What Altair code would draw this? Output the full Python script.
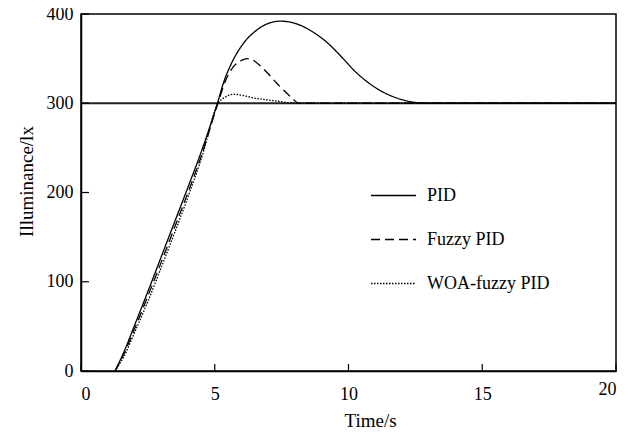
import altair as alt
import pandas as pd

series_names = ["PID", "Fuzzy PID", "WOA-fuzzy PID"]

pid_t = [1.27, 1.6, 2.0, 2.5, 3.0, 3.5, 4.0, 4.5, 5.1, 5.35, 5.63, 6.07, 6.57, 7.05, 7.45, 7.95, 8.55, 9.2, 9.8, 10.2, 10.7, 11.2, 11.7, 12.2, 12.6, 13.0, 20.0]
pid_v = [0, 21, 51, 89, 128, 167, 206, 246, 300, 325, 345, 367, 382, 390, 392, 390, 382, 368, 350, 337, 324, 314, 307, 302.5, 300.6, 300, 300]

fuzzy_t = [1.27, 1.6, 2.0, 2.5, 3.0, 3.5, 4.0, 4.5, 5.12, 5.4, 5.7, 6.0, 6.2, 6.45, 6.7, 7.0, 7.3, 7.6, 7.9, 8.15, 20.0]
fuzzy_v = [0, 19, 47, 84, 122, 161, 200, 241, 300, 325, 341, 348, 350, 348, 342, 333, 323, 314, 305.5, 300, 300]

woa_t = [1.27, 1.6, 2.0, 2.5, 3.0, 3.5, 4.0, 4.5, 5.13, 5.4, 5.7, 6.0, 6.45, 6.9, 7.3, 7.8, 8.1, 20.0]
woa_v = [0, 16, 43, 78, 116, 155, 195, 238, 300, 307, 310, 309, 306, 304, 302.5, 300.5, 300, 300]

setpoint = [300]
x_ticks = [0, 5, 10, 15, 20]
y_ticks = [0, 100, 200, 300, 400]

rows = []
for name, ts, vs in zip(series_names, [pid_t, fuzzy_t, woa_t], [pid_v, fuzzy_v, woa_v]):
    for t, v in zip(ts, vs):
        rows.append({"t": t, "v": v, "series": name})
df = pd.DataFrame(rows)

FONT = "Liberation Serif"
W, H = 535, 357

xscale = alt.Scale(domain=[0, 20], nice=False)
yscale = alt.Scale(domain=[0, 400], nice=False)

lines = alt.Chart(df).mark_line(color="black", strokeWidth=1.3, interpolate="monotone").encode(
    x=alt.X("t:Q", scale=xscale, axis=alt.Axis(
        values=x_ticks, title="Time/s", ticks=False, tickSize=0, grid=False,
        labelPadding={"condition": {"test": "datum.value == 20", "value": 9}, "value": 14},
        labelBaseline="top",
        titleX=289, titleY=55, titleBaseline="alphabetic", titleAlign="center", titleAnchor="start")),
    y=alt.Y("v:Q", scale=yscale, axis=alt.Axis(
        values=y_ticks, title="Illuminance/lx", ticks=False, tickSize=0, grid=False,
        labelPadding=8,
        titleX=-49, titleY=167, titleBaseline="alphabetic", titleAlign="center", titleAnchor="start")),
    strokeDash=alt.StrokeDash("series:N", sort=series_names,
        scale=alt.Scale(domain=series_names, range=[[1, 0], [9, 5], [1.5, 1.5]]),
        legend=alt.Legend(title=None, orient="none", legendX=289, legendY=158,
                          symbolType="stroke", symbolSize=2025, symbolStrokeWidth=1.3,
                          symbolStrokeColor="black", labelFont=FONT, labelFontSize=18,
                          labelColor="black", labelOffset=10, rowPadding=11)),
)

sp = alt.Chart(pd.DataFrame({"v": setpoint})).mark_rule(color="#222", strokeWidth=2.2).encode(
    y=alt.Y("v:Q", scale=yscale))

xt = alt.Chart(pd.DataFrame({"t": x_ticks})).mark_rule(color="black", strokeWidth=1.2).encode(
    x=alt.X("t:Q", scale=xscale), y=alt.value(H), y2=alt.value(H - 7))

yt = alt.Chart(pd.DataFrame({"v": y_ticks})).mark_rule(color="black", strokeWidth=1.2).encode(
    y=alt.Y("v:Q", scale=yscale), x=alt.value(0), x2=alt.value(8))

chart = alt.layer(sp, lines, xt, yt).properties(
    width=W, height=H,
    autosize=alt.AutoSizeParams(type="none"),
    padding={"left": 73, "top": 6, "right": 9, "bottom": 62},
    background="white",
).configure_view(stroke="black", strokeWidth=1.5).configure_axis(
    labelFont=FONT, labelFontSize=18, labelColor="black",
    titleFont=FONT, titleFontSize=19, titleFontWeight="normal", titleColor="black",
    domainColor="black", domainWidth=1.5,
)

chart.save("out.html", embed_options={"renderer": "svg", "actions": False})
